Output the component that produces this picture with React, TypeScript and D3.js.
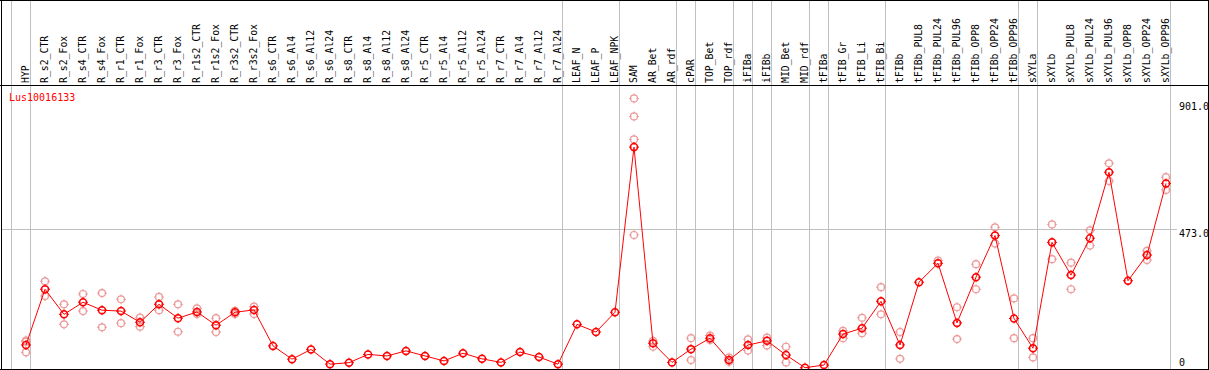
import React, { useEffect, useRef } from "react";
import * as d3 from "d3";

const geneId = "Lus10016133";

const categories = [
  "HYP", "R_s2_CTR", "R_s2_Fox", "R_s4_CTR", "R_s4_Fox", "R_r1_CTR", "R_r1_Fox",
  "R_r3_CTR", "R_r3_Fox", "R_r1s2_CTR", "R_r1s2_Fox", "R_r3s2_CTR", "R_r3s2_Fox",
  "R_s6_CTR", "R_s6_Al4", "R_s6_Al12", "R_s6_Al24", "R_s8_CTR", "R_s8_Al4",
  "R_s8_Al12", "R_s8_Al24", "R_r5_CTR", "R_r5_Al4", "R_r5_Al12", "R_r5_Al24",
  "R_r7_CTR", "R_r7_Al4", "R_r7_Al12", "R_r7_Al24", "LEAF_N", "LEAF_P", "LEAF_NPK",
  "SAM", "AR_Bet", "AR_rdf", "cPAR", "TOP_Bet", "TOP_rdf", "iFIBa", "iFIBb",
  "MID_Bet", "MID_rdf", "tFIBa", "tFIB_Gr", "tFIB_Li", "tFIB_Bi", "tFIBb",
  "tFIBb_PUL8", "tFIBb_PUL24", "tFIBb_PUL96", "tFIBb_OPP8", "tFIBb_OPP24",
  "tFIBb_OPP96", "sXYLa", "sXYLb", "sXYLb_PUL8", "sXYLb_PUL24", "sXYLb_PUL96",
  "sXYLb_OPP8", "sXYLb_OPP24", "sXYLb_OPP96",
];

// number of categories in each tissue group (separated by grey lines)
const groupSizes = [1, 28, 3, 3, 1, 2, 1, 1, 2, 1, 3, 7, 1, 7];

const means = [
  78, 267, 182, 223, 196, 193, 155, 216, 169, 190, 145, 189, 197,
  75, 30, 63, 13, 18, 46, 41, 58, 41, 24, 50, 31, 19, 54, 37, 13,
  148, 122, 189,
  749, 84, 19, 64, 101, 27, 78, 92, 44, 1, 10, 115, 135, 226, 78,
  291, 355, 153, 308, 449, 168, 67, 426, 315, 440, 664, 296, 383, 626,
];

const replicates: number[][] = [
  [89, 93, 53], [294, 244], [216, 148], [251, 193], [254, 138], [233, 152],
  [171, 140], [241, 196], [216, 123], [202, 183], [169, 122], [194, 183], [208, 183],
  [], [], [], [], [], [], [], [], [], [], [], [], [], [], [], [],
  [], [], [],
  [914, 853, 775, 451], [92, 72], [], [101, 27], [110, 95], [35, 21], [97, 59],
  [103, 76], [72, 19], [], [], [126, 101], [170, 118], [274, 182], [122, 31],
  [], [364], [206, 98], [352, 267], [477, 422], [236, 101], [101, 36], [487, 369],
  [357, 267], [467, 415], [694, 634], [], [397, 366], [647, 604],
];

const yTicks = [901, 473, 0];
const yGrid = [473];

const W = 1209;
const H = 370;

export default function App() {
  const ref = useRef<SVGSVGElement>(null);

  useEffect(() => {
    const svg = d3.select(ref.current);
    svg.selectAll("*").remove();

    const headerBottom = 85;
    const plotBottom = 369;
    const font = "'DejaVu Sans Mono', monospace";

    const x = d3.scalePoint<string>().domain(categories).range([26, 1166]);
    const y = d3.scaleLinear().domain([0, 901]).range([368, 102.3]);

    svg.append("rect").attr("width", W).attr("height", H).attr("fill", "white");

    // group separators
    const bounds: number[] = [-1];
    let acc = -1;
    groupSizes.forEach((n) => {
      acc += n;
      bounds.push(acc);
    });
    const step = x.step();
    svg
      .append("g")
      .selectAll("line")
      .data(bounds)
      .join("line")
      .attr("x1", (i) => Math.floor(x.range()[0] + step * i + 4) + 0.5)
      .attr("x2", (i) => Math.floor(x.range()[0] + step * i + 4) + 0.5)
      .attr("y1", 0)
      .attr("y2", plotBottom)
      .attr("stroke", "#c0c0c0")
      .attr("shape-rendering", "crispEdges");

    svg
      .append("g")
      .selectAll("line")
      .data(yGrid)
      .join("line")
      .attr("x1", 2)
      .attr("x2", 1177)
      .attr("y1", (d) => Math.round(y(d)) + 0.5)
      .attr("y2", (d) => Math.round(y(d)) + 0.5)
      .attr("stroke", "#c0c0c0")
      .attr("shape-rendering", "crispEdges");

    // category labels
    svg
      .append("g")
      .selectAll("text")
      .data(categories)
      .join("text")
      .attr("transform", (d) => `translate(${x(d)! + 3},83) rotate(-90)`)
      .attr("font-family", font)
      .attr("font-size", "9.8px")
      .attr("fill", "black")
      .text((d) => d);

    // y labels
    svg
      .append("g")
      .selectAll("text")
      .data(yTicks)
      .join("text")
      .attr("x", 1179)
      .attr("y", (d) => Math.min(y(d) + 8, 366))
      .attr("font-family", font)
      .attr("font-size", "10px")
      .attr("fill", "black")
      .text((d) => (d === 0 ? "0" : d.toFixed(1)));

    svg
      .append("text")
      .attr("x", 9)
      .attr("y", 101)
      .attr("font-family", font)
      .attr("font-size", "10px")
      .attr("fill", "#ff0000")
      .text(geneId);

    const marker = (
      g: d3.Selection<SVGGElement, unknown, null, undefined>,
      cx: number,
      cy: number,
      color: string,
      sw: number
    ) => {
      const r = 3.5;
      g.append("circle")
        .attr("cx", cx)
        .attr("cy", cy)
        .attr("r", r)
        .attr("fill", "none")
        .attr("stroke", color)
        .attr("stroke-width", sw);
      [
        [0, -1],
        [0, 1],
        [-1, 0],
        [1, 0],
      ].forEach(([dx, dy]) => {
        g.append("line")
          .attr("x1", cx + dx * (r - 1))
          .attr("y1", cy + dy * (r - 1))
          .attr("x2", cx + dx * (r + 1.5))
          .attr("y2", cy + dy * (r + 1.5))
          .attr("stroke", color)
          .attr("stroke-width", 1);
      });
    };

    svg
      .append("defs")
      .append("clipPath")
      .attr("id", "plotClip")
      .append("rect")
      .attr("x", 2)
      .attr("y", headerBottom + 1)
      .attr("width", 1205)
      .attr("height", plotBottom - headerBottom - 1);

    const plot = svg.append("g").attr("clip-path", "url(#plotClip)");

    const repG = plot.append("g");
    replicates.forEach((reps, i) => {
      reps.forEach((v) => marker(repG, x(categories[i])!, y(v), "#ec9a9a", 1.2));
    });

    const line = d3
      .line<number>()
      .x((_, i) => x(categories[i])!)
      .y((d) => y(d));

    plot
      .append("path")
      .datum(means)
      .attr("d", line)
      .attr("fill", "none")
      .attr("stroke", "#ff0000")
      .attr("stroke-width", 1);

    const meanG = plot.append("g");
    means.forEach((v, i) => marker(meanG, x(categories[i])!, y(v), "#ff0000", 1.5));

    // frame
    const frame = svg.append("g").attr("stroke", "black").attr("shape-rendering", "crispEdges");
    frame.append("line").attr("x1", 0).attr("x2", W).attr("y1", 0.5).attr("y2", 0.5);
    frame.append("line").attr("x1", 0).attr("x2", W).attr("y1", headerBottom + 0.5).attr("y2", headerBottom + 0.5);
    frame.append("line").attr("x1", 0).attr("x2", W).attr("y1", plotBottom + 0.5).attr("y2", plotBottom + 0.5);
    frame.append("line").attr("x1", 1.5).attr("x2", 1.5).attr("y1", 0).attr("y2", H);
    frame.append("line").attr("x1", 1208.5).attr("x2", 1208.5).attr("y1", 0).attr("y2", H);
  }, []);

  return (
    <svg
      ref={ref}
      width={W}
      height={H}
      style={{ position: "absolute", left: 0, top: 0, display: "block" }}
    ></svg>
  );
}
